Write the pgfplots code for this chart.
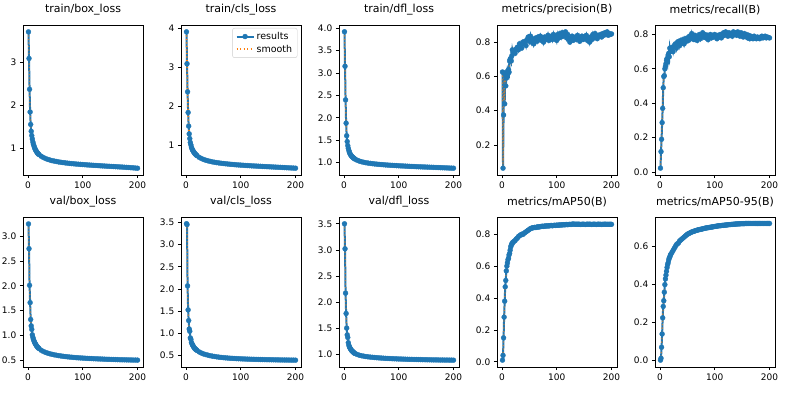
\documentclass[border=0pt]{standalone}
\usepackage{fontspec}
\setmainfont{DejaVu Sans}
\usepackage{pgfplots}
\usepackage{pgfplotstable}
\pgfplotsset{compat=1.18}
\definecolor{tabblue}{HTML}{1F77B4}
\definecolor{taborange}{HTML}{FF7F0E}

\pgfplotstableread{
ep tb tc td vb vc vd
1 3.72 3.92 3.92 3.25 3.47 3.50
2 3.10 3.10 3.15 2.75 3.45 3.02
3 2.38 2.38 2.40 2.01 2.07 2.17
4 1.85 1.85 1.88 1.66 1.53 1.78
5 1.56 1.50 1.60 1.32 1.29 1.50
6 1.40 1.30 1.47 1.19 1.10 1.37
7 1.30 1.18 1.38 1.12 1.05 1.32
8 1.22 1.08 1.32 1.01 0.90 1.22
9 1.15 1.02 1.27 0.96 0.87 1.17
10 1.10 0.96 1.23 0.92 0.80 1.14
11 1.06 0.92 1.20 0.89 0.77 1.12
12 1.02 0.89 1.18 0.86 0.74 1.10
13 0.99 0.86 1.16 0.84 0.72 1.085
14 0.96 0.84 1.145 0.82 0.70 1.07
15 0.94 0.82 1.13 0.80 0.68 1.06
16 0.92 0.80 1.12 0.785 0.665 1.05
17 0.90 0.785 1.11 0.77 0.65 1.04
18 0.885 0.77 1.10 0.755 0.64 1.03
19 0.87 0.755 1.09 0.745 0.63 1.02
20 0.86 0.745 1.08 0.735 0.62 1.015
24 0.82 0.70 1.055 0.70 0.585 0.995
28 0.79 0.67 1.035 0.675 0.56 0.98
32 0.765 0.645 1.02 0.655 0.54 0.97
36 0.745 0.625 1.008 0.64 0.525 0.962
40 0.73 0.61 0.998 0.627 0.512 0.955
44 0.715 0.595 0.99 0.616 0.50 0.949
48 0.705 0.583 0.983 0.606 0.49 0.944
52 0.695 0.572 0.977 0.598 0.482 0.94
56 0.685 0.563 0.971 0.59 0.474 0.936
60 0.677 0.555 0.966 0.583 0.467 0.932
64 0.67 0.547 0.961 0.577 0.461 0.929
68 0.663 0.54 0.957 0.571 0.456 0.926
72 0.657 0.534 0.953 0.566 0.451 0.923
76 0.651 0.528 0.949 0.561 0.447 0.92
80 0.646 0.522 0.945 0.557 0.443 0.918
84 0.641 0.517 0.942 0.553 0.44 0.916
88 0.636 0.512 0.939 0.549 0.437 0.914
92 0.632 0.507 0.936 0.546 0.434 0.912
96 0.628 0.503 0.933 0.543 0.431 0.91
100 0.624 0.499 0.93 0.54 0.429 0.908
104 0.62 0.495 0.927 0.537 0.427 0.907
108 0.616 0.491 0.925 0.534 0.425 0.905
112 0.612 0.487 0.922 0.532 0.423 0.904
116 0.609 0.484 0.92 0.53 0.421 0.902
120 0.605 0.48 0.917 0.528 0.419 0.901
124 0.602 0.477 0.915 0.526 0.418 0.90
128 0.599 0.474 0.913 0.524 0.416 0.899
132 0.595 0.471 0.91 0.522 0.415 0.898
136 0.592 0.468 0.908 0.52 0.413 0.897
140 0.589 0.465 0.906 0.518 0.412 0.896
144 0.586 0.462 0.904 0.516 0.411 0.895
148 0.583 0.459 0.902 0.515 0.41 0.894
152 0.58 0.456 0.90 0.513 0.409 0.893
156 0.577 0.453 0.898 0.512 0.408 0.892
160 0.574 0.45 0.896 0.51 0.407 0.891
164 0.571 0.447 0.894 0.509 0.406 0.89
168 0.568 0.444 0.892 0.507 0.405 0.89
172 0.565 0.441 0.89 0.506 0.404 0.889
176 0.561 0.438 0.888 0.505 0.403 0.888
180 0.558 0.435 0.886 0.504 0.402 0.888
184 0.555 0.432 0.884 0.503 0.402 0.887
188 0.551 0.429 0.882 0.502 0.401 0.887
192 0.547 0.426 0.88 0.501 0.40 0.886
196 0.543 0.423 0.878 0.50 0.40 0.886
200 0.538 0.42 0.876 0.499 0.399 0.885
}\loss

\pgfplotstableread{
ep pr re m50 m95
1 0.626 0.022 0.010 0.002
2 0.065 0.118 0.040 0.012
3 0.375 0.190 0.150 0.070
4 0.620 0.287 0.280 0.140
5 0.440 0.370 0.380 0.225
6 0.615 0.490 0.470 0.285
7 0.545 0.555 0.510 0.315
8 0.590 0.560 0.570 0.360
9 0.600 0.600 0.600 0.400
10 0.630 0.615 0.620 0.430
11 0.615 0.630 0.640 0.450
12 0.640 0.650 0.650 0.470
13 0.625 0.660 0.670 0.490
14 0.690 0.640 0.680 0.505
15 0.700 0.680 0.700 0.515
16 0.705 0.690 0.720 0.530
17 0.690 0.670 0.730 0.540
18 0.720 0.720 0.740 0.545
19 0.755 0.700 0.742 0.555
20 0.740 0.715 0.750 0.560
22 0.750 0.725 0.755 0.570
24 0.735 0.700 0.760 0.580
26 0.760 0.735 0.770 0.590
28 0.770 0.745 0.775 0.600
30 0.755 0.720 0.785 0.610
32 0.790 0.755 0.790 0.615
34 0.775 0.760 0.795 0.620
36 0.765 0.735 0.800 0.630
38 0.800 0.765 0.798 0.635
40 0.790 0.750 0.805 0.640
42 0.805 0.770 0.810 0.645
44 0.780 0.745 0.815 0.650
46 0.815 0.775 0.820 0.655
48 0.830 0.760 0.825 0.660
50 0.805 0.780 0.830 0.665
52 0.835 0.765 0.835 0.668
54 0.800 0.790 0.838 0.671
56 0.820 0.775 0.840 0.674
58 0.790 0.805 0.841 0.677
60 0.815 0.780 0.843 0.679
62 0.825 0.770 0.842 0.681
64 0.805 0.795 0.845 0.683
66 0.830 0.780 0.846 0.685
68 0.815 0.765 0.845 0.687
70 0.835 0.790 0.848 0.688
72 0.810 0.800 0.849 0.690
74 0.825 0.775 0.850 0.691
76 0.800 0.795 0.849 0.692
78 0.830 0.810 0.851 0.694
80 0.820 0.785 0.852 0.695
82 0.815 0.800 0.851 0.697
84 0.840 0.780 0.853 0.698
86 0.810 0.795 0.852 0.699
88 0.825 0.770 0.854 0.700
90 0.835 0.790 0.855 0.701
92 0.815 0.800 0.853 0.702
94 0.845 0.780 0.855 0.703
96 0.820 0.795 0.856 0.704
98 0.835 0.785 0.855 0.705
100 0.810 0.800 0.857 0.706
102 0.845 0.790 0.856 0.707
104 0.825 0.775 0.858 0.708
106 0.850 0.795 0.857 0.709
108 0.830 0.785 0.859 0.710
110 0.855 0.800 0.858 0.710
112 0.835 0.780 0.860 0.711
114 0.850 0.790 0.859 0.712
116 0.860 0.810 0.860 0.712
118 0.825 0.795 0.861 0.713
120 0.845 0.815 0.860 0.714
122 0.815 0.800 0.861 0.714
124 0.800 0.790 0.862 0.715
126 0.825 0.810 0.861 0.716
128 0.835 0.795 0.863 0.716
130 0.810 0.805 0.864 0.717
132 0.820 0.790 0.863 0.717
134 0.830 0.815 0.862 0.718
136 0.815 0.800 0.863 0.718
138 0.840 0.810 0.862 0.719
140 0.825 0.795 0.863 0.719
142 0.805 0.815 0.862 0.720
144 0.820 0.805 0.861 0.720
146 0.835 0.790 0.862 0.720
148 0.815 0.810 0.863 0.721
150 0.830 0.795 0.862 0.721
152 0.820 0.785 0.861 0.721
154 0.840 0.805 0.862 0.721
156 0.810 0.790 0.863 0.722
158 0.825 0.800 0.862 0.722
160 0.800 0.780 0.863 0.722
162 0.830 0.795 0.862 0.722
164 0.815 0.775 0.861 0.722
166 0.845 0.790 0.862 0.722
168 0.825 0.780 0.863 0.722
170 0.850 0.775 0.862 0.722
172 0.830 0.790 0.861 0.722
174 0.820 0.780 0.862 0.722
176 0.840 0.775 0.863 0.722
178 0.835 0.785 0.862 0.722
180 0.845 0.780 0.862 0.722
182 0.830 0.775 0.861 0.722
184 0.850 0.785 0.862 0.722
186 0.840 0.790 0.862 0.722
188 0.855 0.780 0.863 0.722
190 0.845 0.785 0.862 0.722
192 0.860 0.790 0.862 0.722
194 0.840 0.780 0.862 0.722
196 0.850 0.785 0.862 0.722
198 0.845 0.782 0.862 0.722
200 0.848 0.780 0.862 0.722
}\metr

\pgfplotsset{
  myax/.style={
    scale only axis, width=120pt, height=150pt, anchor=south west,
    xmin=-9, xmax=210, xtick={0,100,200},
    axis line style={line width=0.7pt, black},
    tick align=outside, xtick pos=bottom, ytick pos=left,
    major tick length=3.2pt,
    every tick/.style={black, line width=0.7pt},
    ticklabel style={font=\fontsize{9}{10}\selectfont, black},
    /pgf/number format/assume math mode=true,
    scaled y ticks=false,
    title style={font=\fontsize{11}{12}\selectfont, at={(0.5,1)}, anchor=south, yshift=3pt, inner sep=1pt},
  },
  dec/.style={yticklabel style={/pgf/number format/.cd, fixed, fixed zerofill, precision=1}},
  res/.style={tabblue, line width=2pt, mark=*, mark size=2.5pt,
    mark options={solid, fill=tabblue, draw=tabblue, line width=0.3pt}},
  smo/.style={taborange, draw opacity=0.65, line width=1.3pt, dash pattern=on 1.3pt off 2.2pt, no marks},
}

\begin{document}
\begin{tikzpicture}
\useasboundingbox (0pt,0pt) rectangle (790pt,394pt);
% ---------- row 1 ----------
\begin{axis}[myax, at={(23pt,219pt)}, title={train/box\_loss},
  ymin=0.38, ymax=3.88, ytick={1,2,3}]
\addplot[res] table[x=ep,y=tb]{\loss};
\addplot[smo] table[x=ep,y=tb]{\loss};
\end{axis}
\begin{axis}[myax, at={(181pt,219pt)}, title={train/cls\_loss},
  ymin=0.245, ymax=4.095, ytick={1,2,3,4},
  legend cell align=left,
  legend style={at={(rel axis cs:0.97,0.98)}, anchor=north east,
    font=\fontsize{9.5}{11}\selectfont, draw=black!20, rounded corners=2pt,
    fill=white, inner xsep=3pt, inner ysep=2pt, row sep=0pt}]
\addplot[res] table[x=ep,y=tc]{\loss};
\addlegendentry{results}
\addplot[smo, draw opacity=1, line width=1.6pt] table[x=ep,y=tc]{\loss};
\addlegendentry{smooth}
\end{axis}
\begin{axis}[myax, dec, at={(339pt,219pt)}, title={train/dfl\_loss},
  ymin=0.724, ymax=4.07, ytick={1.0,1.5,2.0,2.5,3.0,3.5,4.0}]
\addplot[res] table[x=ep,y=td]{\loss};
\addplot[smo] table[x=ep,y=td]{\loss};
\end{axis}
\begin{axis}[myax, dec, at={(497pt,219pt)}, title={metrics/precision(B)},
  ymin=0.025, ymax=0.90, ytick={0.2,0.4,0.6,0.8}]
\addplot[res] table[x=ep,y=pr]{\metr};
\addplot[smo] table[x=ep,y=pr]{\metr};
\end{axis}
\begin{axis}[myax, dec, at={(655pt,219pt)}, title={metrics/recall(B)},
  ymin=-0.018, ymax=0.855, ytick={0,0.2,0.4,0.6,0.8}]
\addplot[res] table[x=ep,y=re]{\metr};
\addplot[smo] table[x=ep,y=re]{\metr};
\end{axis}
% ---------- row 2 ----------
\begin{axis}[myax, dec, at={(23pt,27pt)}, title={val/box\_loss},
  ymin=0.36, ymax=3.39, ytick={0.5,1.0,1.5,2.0,2.5,3.0}]
\addplot[res] table[x=ep,y=vb]{\loss};
\addplot[smo] table[x=ep,y=vb]{\loss};
\end{axis}
\begin{axis}[myax, dec, at={(181pt,27pt)}, title={val/cls\_loss},
  ymin=0.245, ymax=3.62, ytick={0.5,1.0,1.5,2.0,2.5,3.0,3.5}]
\addplot[res] table[x=ep,y=vc]{\loss};
\addplot[smo] table[x=ep,y=vc]{\loss};
\end{axis}
\begin{axis}[myax, dec, at={(339pt,27pt)}, title={val/dfl\_loss},
  ymin=0.754, ymax=3.63, ytick={1.0,1.5,2.0,2.5,3.0,3.5}]
\addplot[res] table[x=ep,y=vd]{\loss};
\addplot[smo] table[x=ep,y=vd]{\loss};
\end{axis}
\begin{axis}[myax, dec, at={(497pt,27pt)}, title={metrics/mAP50(B)},
  ymin=-0.033, ymax=0.908, ytick={0,0.2,0.4,0.6,0.8}]
\addplot[res] table[x=ep,y=m50]{\metr};
\addplot[smo] table[x=ep,y=m50]{\metr};
\end{axis}
\begin{axis}[myax, dec, at={(655pt,27pt)}, title={metrics/mAP50-95(B)},
  ymin=-0.034, ymax=0.756, ytick={0,0.2,0.4,0.6}]
\addplot[res] table[x=ep,y=m95]{\metr};
\addplot[smo] table[x=ep,y=m95]{\metr};
\end{axis}
\end{tikzpicture}
\end{document}
